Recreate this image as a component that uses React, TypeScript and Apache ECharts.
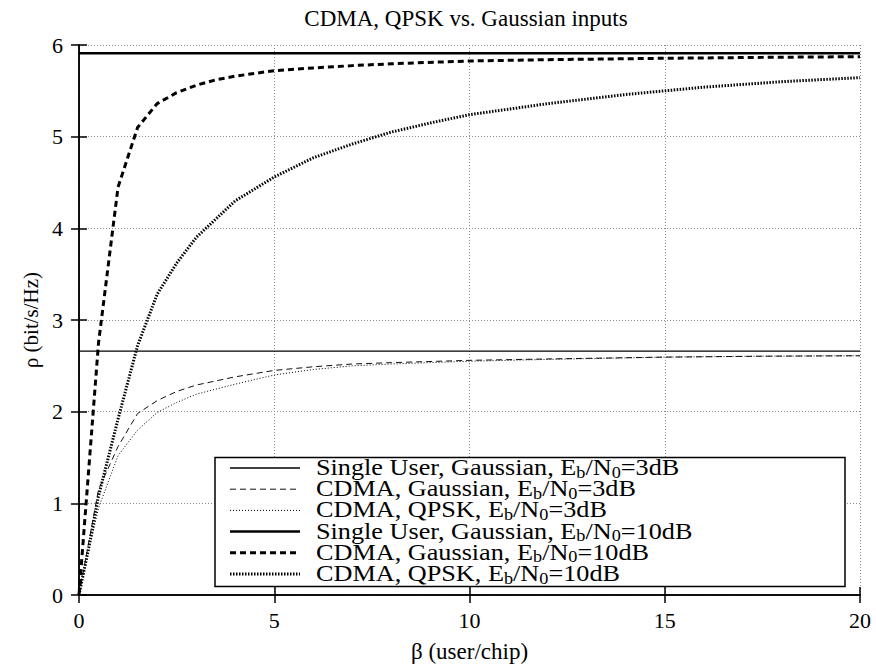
import React, { useEffect, useRef } from "react";
import * as echarts from "echarts";

const xTicks = [0, 5, 10, 15, 20];
const yTicks = [0, 1, 2, 3, 4, 5, 6];

const singleUser3dB = 2.66;
const singleUser10dB = 5.91;

const betaG3 = [0, 0.5, 1, 1.5, 2, 2.5, 3, 4, 5, 6, 7, 8, 10, 12, 15, 17.5, 20];
const rhoG3 = [0, 1.15, 1.62, 1.98, 2.12, 2.22, 2.29, 2.38, 2.45, 2.49, 2.52, 2.535, 2.56, 2.575, 2.595, 2.605, 2.61];

const betaQ3 = [0, 0.5, 1, 1.5, 2, 2.5, 3, 4, 5, 6, 7, 8, 10, 12, 15, 17.5, 20];
const rhoQ3 = [0, 0.95, 1.52, 1.8, 1.99, 2.1, 2.19, 2.3, 2.4, 2.46, 2.5, 2.52, 2.55, 2.57, 2.595, 2.605, 2.61];

const betaG10 = [0, 0.5, 1, 1.5, 2, 2.5, 3, 3.5, 4, 5, 6, 7, 8, 10, 12, 15, 17.5, 20];
const rhoG10 = [0, 2.75, 4.45, 5.1, 5.36, 5.48, 5.56, 5.62, 5.66, 5.72, 5.75, 5.775, 5.795, 5.826, 5.84, 5.855, 5.865, 5.873];

const betaQ10 = [0, 0.25, 0.5, 1, 1.5, 2, 2.5, 3, 3.5, 4, 5, 6, 7, 8, 9, 10, 12, 14, 16, 18, 20];
const rhoQ10 = [0, 0.52, 1.08, 1.92, 2.72, 3.28, 3.62, 3.9, 4.1, 4.3, 4.56, 4.77, 4.92, 5.05, 5.15, 5.24, 5.36, 5.46, 5.54, 5.6, 5.644];

const legendLabels = [
  "Single User, Gaussian, E{s|b}/N{s|0}=3dB",
  "CDMA, Gaussian, E{s|b}/N{s|0}=3dB",
  "CDMA, QPSK, E{s|b}/N{s|0}=3dB",
  "Single User, Gaussian, E{s|b}/N{s|0}=10dB",
  "CDMA, Gaussian, E{s|b}/N{s|0}=10dB",
  "CDMA, QPSK, E{s|b}/N{s|0}=10dB",
];

const FONT = "Times New Roman, Liberation Serif, serif";

const styles: { width: number; type: any }[] = [
  { width: 1.3, type: "solid" },
  { width: 1, type: [6, 4] },
  { width: 1, type: [1, 2] },
  { width: 2.5, type: "solid" },
  { width: 3, type: [6, 4] },
  { width: 3, type: [1.5, 1.5] },
];

const pairs = (xs: number[], ys: number[]) => xs.map((x, i) => [x, ys[i]]);

export default function App() {
  const ref = useRef<HTMLDivElement>(null);
  useEffect(() => {
    if (!ref.current) return;
    const chart = echarts.init(ref.current, null, { renderer: "svg" });
    const dataSets = [
      [[0, singleUser3dB], [20, singleUser3dB]],
      pairs(betaG3, rhoG3),
      pairs(betaQ3, rhoQ3),
      [[0, singleUser10dB], [20, singleUser10dB]],
      pairs(betaG10, rhoG10),
      pairs(betaQ10, rhoQ10),
    ];
    const colors = ["#000", "#111", "#000", "#000", "#000", "#000"];
    const series = dataSets.map((d, i) => ({
      type: "line",
      name: legendLabels[i],
      data: d,
      showSymbol: false,
      symbol: "none",
      xAxisIndex: 0,
      yAxisIndex: 0,
      lineStyle: { color: colors[i], width: styles[i].width, type: styles[i].type, cap: "butt" },
      z: 3,
    }));

    const legX = 215, legY = 457.5, legW = 630, legH = 129;
    const rowY = [467, 488.2, 509.4, 530.6, 551.8, 573];
    const legendEls: any[] = [
      {
        type: "rect",
        shape: { x: legX, y: legY, width: legW, height: legH },
        style: { fill: "#fff", stroke: "#000", lineWidth: 1.5 },
        z: 10,
      },
    ];
    rowY.forEach((y, i) => {
      legendEls.push({
        type: "line",
        shape: { x1: 230, y1: y + 1, x2: 300, y2: y + 1 },
        style: {
          stroke: colors[i],
          lineWidth: styles[i].width,
          lineDash: styles[i].type === "solid" ? null : styles[i].type,
        },
        z: 11,
      });
      legendEls.push({
        type: "text",
        x: 316,
        y: y,
        scaleX: 1.14,
        style: {
          x: 0,
          y: 0,
          text: legendLabels[i],
          fontFamily: FONT,
          fontSize: 23,
          fill: "#000",
          verticalAlign: "middle",
          rich: {
            s: { fontSize: 16, fontFamily: FONT, padding: [11, 0, 0, 0] },
          },
        },
        z: 11,
      });
    });

    chart.setOption({
      animation: false,
      backgroundColor: "#fff",
      textStyle: { fontFamily: FONT },
      title: {
        text: "CDMA, QPSK vs. Gaussian inputs",
        left: 461,
        top: 2,
        textAlign: "center",
        textStyle: { fontFamily: FONT, fontSize: 23, fontWeight: "normal", color: "#000" },
      },
      grid: { left: 79, right: 16, top: 45, bottom: 72, containLabel: false },
      xAxis: [
        {
          type: "value",
          min: 0,
          max: 20,
          interval: 5,
          position: "bottom",
          name: "β (user/chip)",
          nameLocation: "middle",
          nameGap: 45,
          nameTextStyle: { fontFamily: FONT, fontSize: 23, color: "#000" },
          axisLine: { lineStyle: { color: "#000", width: 1.5 } },
          axisTick: { inside: true, length: 8, lineStyle: { color: "#000", width: 1.5 } },
          axisLabel: {
            fontFamily: FONT,
            fontSize: 22,
            color: "#000",
            margin: 14,
            formatter: (v: number) => (xTicks.includes(v) ? String(v) : ""),
          },
          splitLine: { show: true, lineStyle: { color: "#888", width: 1, type: [1, 2] } },
        },
        {
          type: "value",
          min: 0,
          max: 20,
          interval: 5,
          position: "top",
          axisLine: { lineStyle: { color: "#000", width: 1.5 } },
          axisTick: { inside: true, length: 8, lineStyle: { color: "#000", width: 1.5 } },
          axisLabel: { show: false },
          splitLine: { show: false },
        },
      ],
      yAxis: [
        {
          type: "value",
          min: 0,
          max: 6,
          interval: 1,
          position: "left",
          name: "ρ (bit/s/Hz)",
          nameLocation: "middle",
          nameGap: 37,
          nameTextStyle: { fontFamily: FONT, fontSize: 21, color: "#000" },
          axisLine: { lineStyle: { color: "#000", width: 1.5 } },
          axisTick: { inside: true, length: 8, lineStyle: { color: "#000", width: 1.5 } },
          axisLabel: {
            fontFamily: FONT,
            fontSize: 22,
            color: "#000",
            margin: 16,
            formatter: (v: number) => (yTicks.includes(v) ? String(v) : ""),
          },
          splitLine: { show: true, lineStyle: { color: "#888", width: 1, type: [1, 2] } },
        },
        {
          type: "value",
          min: 0,
          max: 6,
          interval: 1,
          position: "right",
          axisLine: { lineStyle: { color: "#000", width: 1.5 } },
          axisTick: { inside: true, length: 8, lineStyle: { color: "#000", width: 1.5 } },
          axisLabel: { show: false },
          splitLine: { show: false },
        },
      ],
      series,
      graphic: legendEls,
    });
    return () => chart.dispose();
  }, []);
  return (
    <div
      ref={ref}
      style={{ position: "fixed", left: 0, top: 0, width: 876, height: 668, background: "#fff" }}
    />
  );
}
